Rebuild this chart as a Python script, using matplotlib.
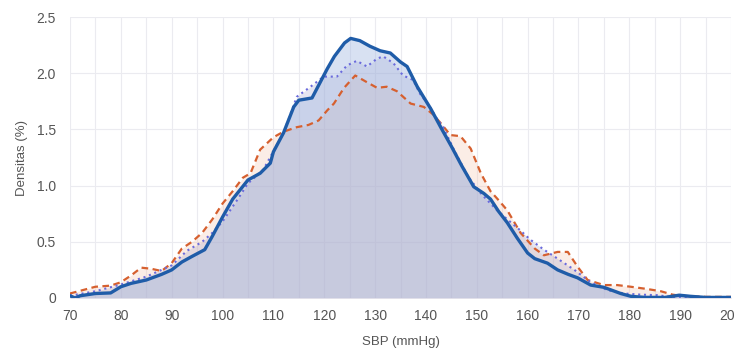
import numpy as np
import matplotlib.pyplot as plt

plt.rcParams['font.family'] = ['Liberation Sans', 'DejaVu Sans']

# SBP (mmHg) vs density (%)
x_solid = [70, 71, 72, 75, 78, 80, 82, 85, 88, 90, 92, 94, 96.5, 98, 100, 102, 105, 107.4, 109.4,
           110, 112, 114, 115, 117.6, 120.6, 122, 124, 125.2, 127, 129, 131, 133, 135, 136.3,
           138.3, 141, 142.9, 145, 147, 149.4, 151.4, 152.7, 154.3, 156, 158, 160, 161.4,
           163.9, 165.9, 168, 169.8, 172.4, 175, 178.3, 180.3, 183, 187, 189.8, 192, 195, 200]
y_solid = [0.02, 0.0, 0.02, 0.04, 0.045, 0.10, 0.13, 0.16, 0.21, 0.25, 0.32, 0.37, 0.43, 0.55,
           0.72, 0.88, 1.05, 1.11, 1.2, 1.3, 1.47, 1.7, 1.76, 1.78, 2.04, 2.15, 2.27, 2.31, 2.29,
           2.24, 2.2, 2.18, 2.1, 2.06, 1.88, 1.68, 1.52, 1.35, 1.18, 0.99, 0.93, 0.88, 0.77, 0.67,
           0.53, 0.40, 0.35, 0.31, 0.25, 0.21, 0.18, 0.115, 0.095, 0.04, 0.015, 0.005, 0.005,
           0.025, 0.015, 0.005, 0.005]

x_dot = [70, 75, 80, 85, 90, 93, 96, 98, 100, 103, 105, 108, 112, 114.6, 117.3, 119.9, 122.5,
         124.5, 126.4, 128.4, 130.4, 131.6, 133.6, 135.5, 137.5, 138.8, 140.8, 142.1, 143.4,
         145.5, 148.3, 151, 154, 156, 158.6, 160.5, 163.2, 165.9, 169.2, 172.4, 175.7, 179,
         182.2, 185.5, 188, 192, 200]
y_dot = [0.02, 0.06, 0.12, 0.19, 0.29, 0.42, 0.5, 0.58, 0.68, 0.88, 1.02, 1.14, 1.47, 1.79,
         1.88, 1.97, 1.97, 2.07, 2.11, 2.06, 2.13, 2.15, 2.09, 1.98, 1.94, 1.82, 1.70, 1.60,
         1.52, 1.32, 1.08, 0.92, 0.78, 0.7, 0.60, 0.52, 0.43, 0.35, 0.25, 0.14, 0.07, 0.04,
         0.03, 0.025, 0.01, 0.005, 0.005]

x_dash = [70, 75, 78, 80, 82, 84, 86, 88, 90, 92, 94, 96, 98, 100, 102, 104, 105.5, 107.4, 110,
          112, 114.6, 116.9, 118.9, 120.6, 121.9, 123.9, 126.1, 128.4, 130.4, 132.3, 134.3,
          137, 139.6, 141.5, 143.2, 144.8, 146.8, 148.8, 150.8, 152.7, 154.3, 156, 158.6,
          161.4, 163.2, 165.9, 167.9, 169.8, 171.8, 175, 177.6, 180.3, 183.5, 186.2, 188.5,
          190, 195, 200]
y_dash = [0.04, 0.1, 0.11, 0.14, 0.2, 0.27, 0.26, 0.24, 0.31, 0.44, 0.5, 0.58, 0.7, 0.84, 0.95,
          1.07, 1.11, 1.32, 1.43, 1.48, 1.52, 1.54, 1.58, 1.67, 1.73, 1.87, 1.98, 1.92, 1.87,
          1.88, 1.84, 1.73, 1.70, 1.63, 1.54, 1.45, 1.44, 1.33, 1.11, 0.95, 0.87, 0.78, 0.58,
          0.44, 0.38, 0.41, 0.41, 0.28, 0.16, 0.115, 0.115, 0.10, 0.08, 0.06, 0.03, 0.02, 0.01,
          0.01]

c_solid = '#1f5ca8'
c_dot = '#6b6bdc'
c_dash = '#d6602f'

fig = plt.figure(figsize=(7.35, 3.48), dpi=100)
ax = fig.add_axes([0.0952, 0.1437, 0.8994, 0.8073])

ax.fill_between(x_dash, y_dash, color='#f3b89c', alpha=0.25, lw=0)
ax.fill_between(x_dot, y_dot, color='#9a9ac8', alpha=0.25, lw=0)
ax.fill_between(x_solid, y_solid, color='#9fb6e0', alpha=0.4, lw=0)

ax.plot(x_dash, y_dash, color=c_dash, lw=1.6, ls=(0, (3, 2)), dash_joinstyle='round')
ax.plot(x_dot, y_dot, color=c_dot, lw=1.5, ls=(0, (1, 1.8)))
ax.plot(x_solid, y_solid, color=c_solid, lw=2.4, solid_joinstyle='round',
        solid_capstyle='round')

ax.set_xlim(70, 200)
ax.set_ylim(0, 2.5)
ax.set_xticks(np.arange(70, 201, 10))
ax.set_xticks(np.arange(75, 200, 10), minor=True)
ax.set_yticks([0, 0.5, 1.0, 1.5, 2.0, 2.5])
ax.set_yticklabels(['0', '0.5', '1.0', '1.5', '2.0', '2.5'])
ax.grid(True, which='both', color='#ebebf0', lw=0.8)
ax.set_axisbelow(True)
for s in ax.spines.values():
    s.set_visible(False)
ax.tick_params(which='both', length=0, labelsize=10, colors='#555555', pad=8)
ax.tick_params(axis='y', pad=10)

ax.set_xlabel('SBP (mmHg)', fontsize=9.5, color='#555555', labelpad=9)
ax.set_ylabel('Densitas (%)', fontsize=9.5, color='#555555', labelpad=6)

fig.savefig('out.png', dpi=100)
